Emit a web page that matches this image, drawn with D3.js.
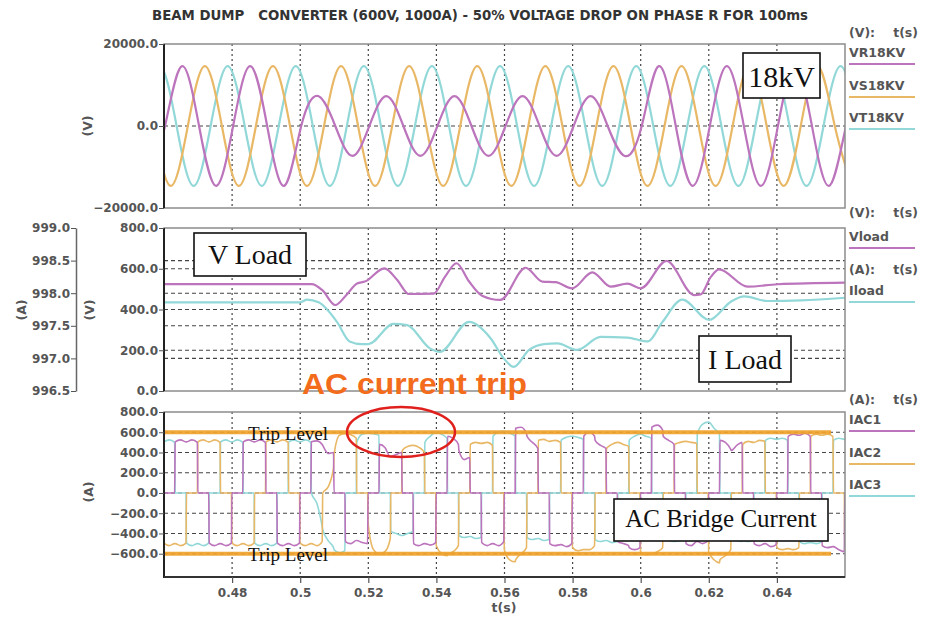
<!DOCTYPE html>
<html>
<head>
<meta charset="utf-8">
<script src="https://cdn.jsdelivr.net/npm/d3@7"></script>
<style>
body{margin:0;background:#fff}
svg text{font-family:"DejaVu Sans",Arial,sans-serif}
.tick text{font-weight:bold;fill:#555;font-size:12px}
.lbl{font-weight:bold;fill:#555;font-size:12.5px}
.serif{font-family:"Liberation Serif","Times New Roman",serif;fill:#111}
</style>
</head>
<body>
<div id="chart"></div>
<script>
// ---- data ----
var title="BEAM DUMP   CONVERTER (600V, 1000A) - 50% VOLTAGE DROP ON PHASE R FOR 100ms";
var timeTicks=[0.48,0.5,0.52,0.54,0.56,0.58,0.6,0.62,0.64];
var vTicks=[-20000,0,20000];
var vloadTicks=[0,200,400,600,800];
var iloadTicks=[996.5,997,997.5,998,998.5,999];
var iacTicks=[-600,-400,-200,0,200,400,600,800];
var tripLevels=[600,-600];
var tripEnd=0.6559;

// 18kV phase voltages [t, V] : peaks, troughs and zero crossings
var vr=[[0.4553,-14600],[0.4603,0],[0.4653,14600],[0.4703,0],[0.4753,-14600],[0.4803,0],[0.4853,14600],[0.4903,0],[0.4953,-14600],[0.5003,0],
[0.5053,7300],[0.5103,0],[0.5153,-7300],[0.5203,0],[0.5253,7300],[0.5303,0],[0.5353,-7300],[0.5403,0],[0.5453,7300],[0.5503,0],
[0.5553,-7300],[0.5603,0],[0.5653,7300],[0.5703,0],[0.5753,-7300],[0.5803,0],[0.5853,7300],[0.5903,0],[0.5953,-7300],[0.6003,0],
[0.6053,14600],[0.6103,0],[0.6153,-14600],[0.6203,0],[0.6253,14600],[0.6303,0],[0.6353,-14600],[0.6403,0],[0.6453,14600],[0.6503,0],
[0.6553,-14600],[0.6603,0],[0.6653,14600]];
var vs=[[0.4570,0],[0.4620,-14600],[0.4670,0],[0.4720,14600],[0.4770,0],[0.4820,-14600],[0.4870,0],[0.4920,14600],[0.4970,0],[0.5020,-14600],
[0.5070,0],[0.5120,14600],[0.5170,0],[0.5220,-14600],[0.5270,0],[0.5320,14600],[0.5370,0],[0.5420,-14600],[0.5470,0],[0.5520,14600],
[0.5570,0],[0.5620,-14600],[0.5670,0],[0.5720,14600],[0.5770,0],[0.5820,-14600],[0.5870,0],[0.5920,14600],[0.5970,0],[0.6020,-14600],
[0.6070,0],[0.6120,14600],[0.6170,0],[0.6220,-14600],[0.6270,0],[0.6320,14600],[0.6370,0],[0.6420,-14600],[0.6470,0],[0.6520,14600],
[0.6570,0],[0.6620,-14600]];
var vt=[[0.4537,0],[0.4587,14600],[0.4637,0],[0.4687,-14600],[0.4737,0],[0.4787,14600],[0.4837,0],[0.4887,-14600],[0.4937,0],[0.4987,14600],
[0.5037,0],[0.5087,-14600],[0.5137,0],[0.5187,14600],[0.5237,0],[0.5287,-14600],[0.5337,0],[0.5387,14600],[0.5437,0],[0.5487,-14600],
[0.5537,0],[0.5587,14600],[0.5637,0],[0.5687,-14600],[0.5737,0],[0.5787,14600],[0.5837,0],[0.5887,-14600],[0.5937,0],[0.5987,14600],
[0.6037,0],[0.6087,-14600],[0.6137,0],[0.6187,14600],[0.6237,0],[0.6287,-14600],[0.6337,0],[0.6387,14600],[0.6437,0],[0.6487,-14600],
[0.6537,0],[0.6587,14600],[0.6637,0]];

// load voltage [t, V] and load current [t, A]
var vload=[[0.46,525],[0.5034,525],[0.5065,495],[0.5103,422],[0.5135,470],[0.5167,528],[0.519,537],[0.5247,602],[0.5285,545],[0.5319,476],
[0.5392,478],[0.5425,560],[0.5459,627],[0.5495,540],[0.5534,468],[0.5588,447],[0.5662,605],[0.5711,537],[0.5750,534],[0.5799,504],
[0.5858,582],[0.5912,512],[0.5961,527],[0.6000,504],[0.6076,638],[0.6157,471],[0.6176,474],[0.6206,560],[0.6230,597],[0.6314,512],
[0.6402,524],[0.66,532]];
var iload=[[0.46,997.86],[0.5,997.86],[0.502,997.90],[0.5054,997.86],[0.5108,997.56],[0.5145,997.26],[0.518,997.22],[0.52,997.22],
[0.5274,997.53],[0.5314,997.51],[0.5382,997.15],[0.541,997.10],[0.5496,997.56],[0.5559,997.31],[0.5598,997.00],[0.5627,996.87],
[0.5672,997.13],[0.5716,997.22],[0.5755,997.23],[0.5814,997.13],[0.5882,997.33],[0.5961,997.32],[0.6020,997.26],[0.6064,997.56],
[0.6122,997.90],[0.6201,997.59],[0.6265,997.87],[0.6304,997.95],[0.6373,997.88],[0.6471,997.89],[0.66,997.93]];

// AC bridge currents: one entry per 60-degree conduction slot, [start, middle, end] in A
var slotStart=0.45987, slotWidth=1/300;
var iac1=[[0,0,0],[505,525,505],[505,525,500],[0,0,0],[-495,-520,-500],[-500,-520,-495],[0,0,0],
[505,525,505],[505,525,500],[0,0,0],[-495,-520,-500],[-500,-520,-495],[0,0,0],
[505,515,480],[470,390,400],[0,0,0],[-480,-500,-470],[-470,-490,-500],[0,0,0],
[480,450,360],[360,380,400],[0,0,0],[-500,-520,-500],[-500,-515,-490],[0,0,0],
[560,540,480],[420,330,350],[0,0,0],[-490,-520,-500],[-500,-520,-480],[0,0,0],
[640,650,590],[560,500,440],[0,0,0],[-500,-520,-510],[-510,-530,-500],[0,0,0],
[560,600,560],[520,470,440],[0,0,0],[-480,-500,-520],[-540,-560,-540],[0,0,0],
[650,670,620],[560,520,480],[0,0,0],[-500,-520,-480],[-480,-500,-470],[0,0,0],
[520,500,430],[420,470,500],[0,0,0],[-500,-520,-500],[-500,-530,-510],[0,0,0],
[560,580,570],[570,590,560],[0,0,0],[-520,-540,-530],[-530,-560,-580],[0,0,0]];
var iac2=[[-495,-520,-500],[-500,-520,-495],[0,0,0],[505,525,505],[505,525,500],[0,0,0],
[-495,-520,-500],[-500,-520,-495],[0,0,0],[505,525,505],[505,525,500],[0,0,0],
[-495,-520,-500],[-500,-520,-480],[0,60,250],[380,570,585],[585,575,540],[0,0,0],
[-300,-560,-600],[-600,-580,-450],[0,0,0],[420,460,470],[470,450,400],[0,0,0],
[-520,-600,-620],[-610,-580,-520],[0,0,0],[480,500,490],[490,500,470],[0,0,0],
[-560,-660,-680],[-660,-600,-540],[0,0,0],[520,530,510],[510,520,500],[0,0,0],
[-540,-570,-560],[-560,-560,-520],[0,0,0],[440,480,500],[500,480,460],[0,0,0],
[-580,-610,-600],[-600,-580,-540],[0,0,0],[480,500,510],[510,500,490],[0,0,0],
[-580,-660,-690],[-660,-620,-560],[0,0,0],[480,510,500],[500,520,510],[0,0,0],
[-540,-560,-550],[-550,-560,-540],[0,0,0],[560,580,570],[570,580,560],[0,0,0],
[-540,-560,-550]];
var iac3=[[505,525,500],[0,0,0],[-495,-520,-500],[-500,-520,-495],[0,0,0],[505,525,505],[505,525,500],
[0,0,0],[-495,-520,-500],[-500,-520,-495],[0,0,0],[505,525,505],[505,525,500],
[0,-100,-330],[-360,-470,-540],[-560,-590,-570],[0,0,0],[500,580,590],[590,585,570],
[0,0,0],[-380,-400,-420],[-420,-400,-380],[0,0,0],[500,560,600],[600,580,540],
[0,0,0],[-420,-440,-430],[-430,-450,-440],[0,0,0],[560,600,610],[610,590,560],
[0,0,0],[-440,-460,-450],[-450,-470,-460],[0,0,0],[520,550,560],[560,550,530],
[0,0,0],[-460,-480,-470],[-470,-490,-480],[0,0,0],[520,560,580],[580,560,540],
[0,0,0],[-440,-470,-480],[-480,-470,-450],[0,0,0],[580,680,700],[700,640,580],
[0,0,0],[-440,-470,-480],[-470,-480,-460],[0,0,0],[520,540,530],[530,540,520],
[0,0,0],[-480,-500,-490],[-490,-500,-480],[0,0,0],[520,540,530],[530,540,520]];

var cMag="#bc74bc", cOra="#e9b866", cCya="#92d8d8";

// ---- layout ----
var W=928,H=619;
var X0=164,X1=845;
var p1={top:44,bottom:208},p2={top:228,bottom:391},p3={top:412,bottom:577};

var svg=d3.select('#chart').append('svg')
	.attr('width',W).attr('height',H)
	.style('display','block');

var x=d3.scaleLinear().domain([0.46,0.66]).range([X0,X1]);
var y1=d3.scaleLinear().domain([-20000,20000]).range([p1.bottom,p1.top]);
var y2v=d3.scaleLinear().domain([0,800]).range([p2.bottom,p2.top]);
var y2a=d3.scaleLinear().domain([996.5,999]).range([p2.bottom,p2.top]);
var y3=d3.scaleLinear().domain([-830,800]).range([p3.bottom,p3.top]);

svg.append('text')
	.attr('x',152).attr('y',20)
	.attr('textLength',656).attr('lengthAdjust','spacingAndGlyphs')
	.style('font-family','"DejaVu Sans Condensed","DejaVu Sans",sans-serif')
	.style('font-weight','bold').style('font-size','14px').style('fill','#333')
	.attr('xml:space','preserve')
	.text(title);

var defs=svg.append('defs');
[p1,p2,p3].forEach(function(p,i){
	defs.append('clipPath').attr('id','clip'+i)
		.append('rect').attr('x',X0).attr('y',p.top).attr('width',X1-X0).attr('height',p.bottom-p.top);
});

function vgrid(p){
	svg.append('g').selectAll('line').data(timeTicks).enter().append('line')
		.attr('x1',function(d){return x(d)}).attr('x2',function(d){return x(d)})
		.attr('y1',p.top).attr('y2',p.bottom)
		.attr('stroke','#444').attr('stroke-width',1.2).attr('stroke-dasharray','2,3');
}
function hgrid(vals,scale){
	svg.append('g').selectAll('line').data(vals).enter().append('line')
		.attr('x1',X0).attr('x2',X1)
		.attr('y1',function(d){return scale(d)}).attr('y2',function(d){return scale(d)})
		.attr('stroke','#444').attr('stroke-width',1.1).attr('stroke-dasharray','4,3');
}
function frame(p,blackBottom){
	svg.append('rect').attr('x',X0).attr('y',p.top).attr('width',X1-X0).attr('height',p.bottom-p.top)
		.attr('fill','none').attr('stroke','#8c8c8c').attr('stroke-width',1.5);
	svg.append('line').attr('x1',X0).attr('x2',X0).attr('y1',p.top).attr('y2',p.bottom+(blackBottom?1:0))
		.attr('stroke','#222').attr('stroke-width',2);
	if(blackBottom){
		svg.append('line').attr('x1',X0).attr('x2',X1).attr('y1',p.bottom).attr('y2',p.bottom)
			.attr('stroke','#333').attr('stroke-width',2);
	}
}
function leftAxis(scale,vals,xpos,fmt,showDomain){
	var g=svg.append('g').attr('transform','translate('+xpos+',0)')
		.call(d3.axisLeft(scale).tickValues(vals).tickFormat(d3.format(fmt)).tickSize(5).tickSizeOuter(0).tickPadding(1));
	g.selectAll('.tick line').attr('stroke','#555');
	if(showDomain){g.select('.domain').attr('stroke','#666').attr('stroke-width',1.5);}
	else{g.select('.domain').remove();}
	return g;
}
function unitLabel(txt,cx,cy){
	svg.append('text').attr('class','lbl')
		.attr('transform','translate('+cx+','+cy+') rotate(-90)')
		.attr('text-anchor','middle').attr('dy','0.35em').text(txt);
}
function legendHead(unit,yy){
	svg.append('text').attr('class','lbl').attr('x',849).attr('y',yy).text(unit);
	svg.append('text').attr('class','lbl').attr('x',918).attr('y',yy).attr('text-anchor','end').text('t(s)');
}
function legendItem(name,color,yy){
	svg.append('text').attr('class','lbl').attr('x',849).attr('y',yy).text(name);
	svg.append('line').attr('x1',849).attr('x2',915).attr('y1',yy+7).attr('y2',yy+7)
		.attr('stroke',color).attr('stroke-width',2);
}

// ---- panel 1: 18 kV phase voltages ----
vgrid(p1);
hgrid([0],y1);
var lineV=d3.line().x(function(d){return x(d[0])}).y(function(d){return y1(d[1])}).curve(d3.curveNatural);
var g1=svg.append('g').attr('clip-path','url(#clip0)');
[[vt,cCya],[vs,cOra],[vr,cMag]].forEach(function(s){
	g1.append('path').datum(s[0]).attr('d',lineV).attr('fill','none').attr('stroke',s[1]).attr('stroke-width',2.2);
});
frame(p1,false);
leftAxis(y1,vTicks,X0,'.1f',false);
unitLabel('(V)',88,126);
legendHead('(V):',37);
legendItem('VR18KV',cMag,57);
legendItem('VS18KV',cOra,90);
legendItem('VT18KV',cCya,122);

// ---- panel 2: load voltage and current ----
vgrid(p2);
hgrid([200,400,600],y2v);
hgrid([997,997.5,998,998.5],y2a);
var g2=svg.append('g').attr('clip-path','url(#clip1)');
g2.append('path').datum(iload)
	.attr('d',d3.line().x(function(d){return x(d[0])}).y(function(d){return y2a(d[1])}).curve(d3.curveMonotoneX))
	.attr('fill','none').attr('stroke',cCya).attr('stroke-width',2.2);
g2.append('path').datum(vload)
	.attr('d',d3.line().x(function(d){return x(d[0])}).y(function(d){return y2v(d[1])}).curve(d3.curveMonotoneX))
	.attr('fill','none').attr('stroke',cMag).attr('stroke-width',2.2);
frame(p2,false);
leftAxis(y2v,vloadTicks,X0,'.1f',false);
leftAxis(y2a,iloadTicks,76,'.1f',true);
unitLabel('(V)',90,310);
unitLabel('(A)',22,310);
legendHead('(V):',217);
legendItem('Vload',cMag,241);
legendHead('(A):',274);
legendItem('Iload',cCya,295);

// ---- panel 3: AC bridge currents ----
vgrid(p3);
hgrid([-600,-400,-200,0,200,400,600],y3);
function slotPoints(arr){
	var pts=[],eps=0.00008;
	arr.forEach(function(v,k){
		var s=slotStart+k*slotWidth;
		pts.push([s+eps,v[0]]);
		pts.push([s+slotWidth/2,v[1]]);
		pts.push([s+slotWidth-eps,v[2]]);
	});
	return pts;
}
var lineI=d3.line().x(function(d){return x(d[0])}).y(function(d){return y3(d[1])}).curve(d3.curveMonotoneX);
var g3=svg.append('g').attr('clip-path','url(#clip2)');
[[iac3,cCya],[iac2,cOra],[iac1,cMag]].forEach(function(s){
	g3.append('path').datum(slotPoints(s[0])).attr('d',lineI).attr('fill','none').attr('stroke',s[1]).attr('stroke-width',1.6);
});
g3.selectAll('.trip').data(tripLevels).enter().append('line')
	.attr('class','trip')
	.attr('x1',x(0.46)).attr('x2',x(tripEnd))
	.attr('y1',function(d){return y3(d)}).attr('y2',function(d){return y3(d)})
	.attr('stroke','#f0a22c').attr('stroke-width',4).attr('opacity',0.92);
frame(p3,true);
leftAxis(y3,iacTicks,X0,'.1f',false);
unitLabel('(A)',89,492);
legendHead('(A):',404);
legendItem('IAC1',cMag,424);
legendItem('IAC2',cOra,457);
legendItem('IAC3',cCya,489);

var xa=svg.append('g').attr('transform','translate(0,'+p3.bottom+')')
	.call(d3.axisBottom(x).tickValues(timeTicks).tickFormat(d3.format('')).tickSize(6).tickPadding(5));
xa.select('.domain').remove();
xa.selectAll('.tick line').attr('stroke','#555').attr('stroke-width',1.2);
svg.append('text').attr('class','lbl').attr('x',504).attr('y',612).attr('text-anchor','middle').text('t(s)');

// ---- annotations ----
function box(txt,x0,y0,w,h,fs,base){
	svg.append('rect').attr('x',x0).attr('y',y0).attr('width',w).attr('height',h)
		.attr('fill','#fff').attr('stroke','#111').attr('stroke-width',1.6);
	svg.append('text').attr('class','serif').attr('x',x0+w/2).attr('y',base)
		.attr('text-anchor','middle').style('font-size',fs+'px').text(txt);
}
box('18kV',743,53,77,45,30,87);
box('V Load',194,233,112,43,28,264);
box('I Load',699,336,92,46,28,369);
box('AC Bridge Current',614,499,214,42,25,527);

svg.append('text').attr('class','serif').attr('x',248).attr('y',440).style('font-size','19px').text('Trip Level');
svg.append('text').attr('class','serif').attr('x',248).attr('y',561).style('font-size','19px').text('Trip Level');

svg.append('text').attr('x',302).attr('y',394)
	.attr('textLength',225).attr('lengthAdjust','spacingAndGlyphs')
	.style('font-family','"Liberation Sans",Arial,sans-serif').style('font-weight','bold')
	.style('font-size','30px').style('fill','#f36c1c')
	.text('AC current trip');
svg.append('ellipse').attr('cx',401).attr('cy',432).attr('rx',54).attr('ry',25)
	.attr('fill','none').attr('stroke','#e0201c').attr('stroke-width',2.5);
</script>
</body>
</html>
